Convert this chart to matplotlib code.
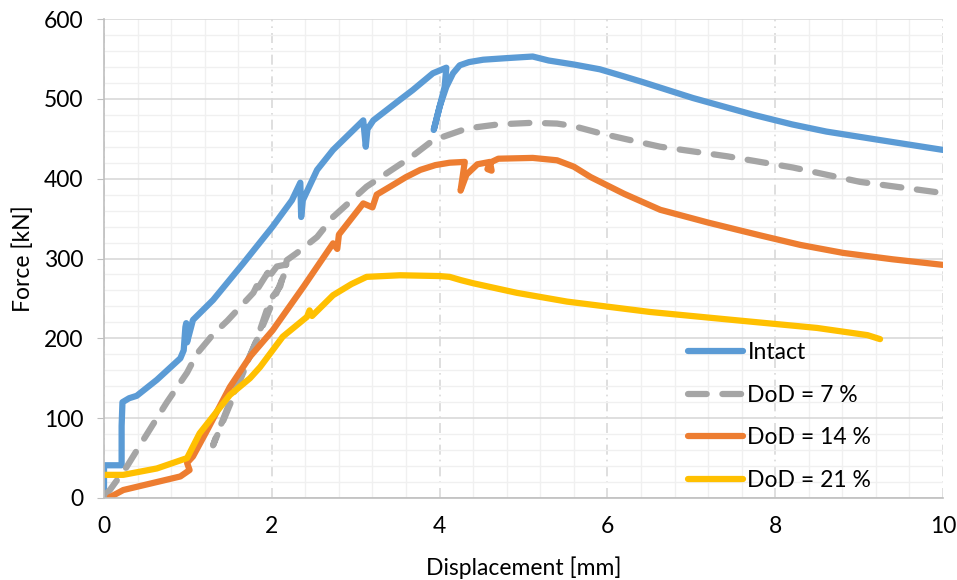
import matplotlib
matplotlib.use('Agg')
import matplotlib.pyplot as plt
from matplotlib.ticker import MultipleLocator

# ----------------------------------------------------------------------
# values

intact_x = [0, 0, 0.21, 0.21, 0.22, 0.30, 0.39, 0.63, 0.91, 0.95, 0.97, 0.98, 0.99,
            1.06, 1.30, 1.66, 2.01, 2.24, 2.34, 2.35, 2.37, 2.54, 2.73, 3.09, 3.12,
            3.14, 3.21, 3.53, 3.68, 3.92, 4.08, 4.06, 3.93, 4.00, 4.08, 4.16, 4.24,
            4.35, 4.52, 4.80, 5.11, 5.30, 5.60, 5.91, 6.20, 6.42, 7.02, 7.74, 8.20,
            8.61, 9.21, 10.0]
intact_F = [0, 41, 41, 90, 120, 125, 128, 148, 175, 185, 214, 219, 195,
            223, 248, 294, 340, 373, 395, 352, 373, 411, 436, 473, 440,
            462, 473, 499, 511, 532, 539, 515, 461, 490, 515, 532, 542,
            546, 549, 551, 553, 548, 543, 537, 528, 521, 501, 480, 468,
            459, 449, 436]

dod7_x = [0.01, 0.07, 0.27, 0.47, 0.75, 0.99, 1.11, 1.30, 1.47, 1.78, 1.85, 1.83,
          1.95, 1.93, 2.06, 2.20, 1.75, 1.30, 1.33, 1.50, 1.82, 1.98, 2.10, 2.18,
          2.30, 2.54, 2.73, 3.13, 3.53, 3.61, 3.92, 4.33, 4.70, 5.11, 5.40, 5.59,
          5.91, 6.20, 6.63, 7.43, 8.21, 9.01, 10.0]
dod7_F = [4, 10, 39, 73, 120, 157, 181, 205, 222, 257, 272, 262,
          282, 272, 290, 293, 180, 66, 75, 120, 198, 248, 265, 298,
          307, 327, 352, 390, 418, 423, 448, 463, 468, 470, 469, 466,
          457, 450, 440, 428, 414, 396, 382]

dod14_x = [0.07, 0.23, 0.63, 0.91, 1.02, 0.99, 1.06, 1.23, 1.50, 1.74, 2.01, 2.38,
           2.73, 2.78, 2.80, 3.09, 3.20, 3.25, 3.41, 3.60, 3.77, 3.95, 4.12, 4.30,
           4.25, 4.32, 4.45, 4.60, 4.62, 4.57, 4.60, 4.70, 5.11, 5.40, 5.60, 5.80,
           6.20, 6.63, 7.20, 7.82, 8.30, 8.81, 9.40, 10.0]
dod14_F = [1, 10, 20, 27, 35, 44, 52, 85, 139, 177, 210, 265,
           319, 312, 330, 369, 364, 380, 390, 402, 411, 417, 420, 421,
           385, 405, 418, 421, 410, 412, 420, 425, 426, 423, 415, 402,
           381, 361, 345, 329, 317, 307, 299, 292]

dod21_x = [0.01, 0.23, 0.63, 0.99, 1.14, 1.50, 1.74, 1.86, 2.13, 2.42, 2.45, 2.48,
           2.73, 2.95, 3.13, 3.53, 4.00, 4.12, 4.25, 4.40, 4.92, 5.52, 6.51, 7.50,
           8.50, 9.10, 9.25]
dod21_F = [29, 29, 37, 50, 81, 129, 150, 164, 202, 227, 235, 228,
           254, 268, 277, 279, 278, 277, 273, 269, 257, 246, 233, 223,
           213, 204, 199]

labels = ['Intact', 'DoD = 7 %', 'DoD = 14 %', 'DoD = 21 %']
colors = ['#5B9BD5', '#A5A5A5', '#ED7D31', '#FFC000']

# ----------------------------------------------------------------------

plt.rcParams['font.family'] = ['Lato', 'DejaVu Sans']
plt.rcParams['font.size'] = 16.5

fig = plt.figure(figsize=(9.57, 5.80), dpi=100)
ax = fig.add_axes([104/957, 1-498/580, (943-104)/957, (498-19)/580])

lw = 4.5
ax.plot(intact_x, intact_F, color=colors[0], lw=lw, solid_capstyle='round',
        solid_joinstyle='round', label=labels[0])
ax.plot(dod7_x, dod7_F, color=colors[1], lw=lw, dash_capstyle='round',
        dash_joinstyle='round', dashes=(3.0, 2.5), label=labels[1])
ax.plot(dod14_x, dod14_F, color=colors[2], lw=lw, solid_capstyle='round',
        solid_joinstyle='round', label=labels[2])
ax.plot(dod21_x, dod21_F, color=colors[3], lw=lw, solid_capstyle='round',
        solid_joinstyle='round', label=labels[3])

ax.set_xlim(0, 10)
ax.set_ylim(0, 600)
ax.xaxis.set_major_locator(MultipleLocator(2))
ax.xaxis.set_minor_locator(MultipleLocator(0.4))
ax.yaxis.set_major_locator(MultipleLocator(100))
ax.yaxis.set_minor_locator(MultipleLocator(20))

ax.set_axisbelow(True)
ax.grid(which='minor', axis='both', color='#f0f0f0', lw=1.0)
ax.grid(which='major', axis='y', color='#d9d9d9', lw=1.2)
ax.grid(which='major', axis='x', color='#d9d9d9', lw=1.2, dashes=(6, 3, 1, 3))

for s in ['top', 'right']:
    ax.spines[s].set_visible(False)
for s in ['left', 'bottom']:
    ax.spines[s].set_color('#bfbfbf')
    ax.spines[s].set_linewidth(1.2)

ax.tick_params(which='major', axis='y', length=5, color='#bfbfbf', labelcolor='#000000', pad=10)
ax.tick_params(which='major', axis='x', length=0, labelcolor='#000000', pad=13)
ax.tick_params(which='minor', length=0)

ax.set_xlabel('Displacement [mm]', labelpad=14)
ax.set_ylabel('Force [kN]', labelpad=7)

leg = ax.legend(loc='upper left', bbox_to_anchor=(0.685, 0.345), frameon=False,
                handlelength=2.4, handletextpad=0.2, labelspacing=0.95,
                borderaxespad=0)

fig.savefig('out.png', dpi=100)
